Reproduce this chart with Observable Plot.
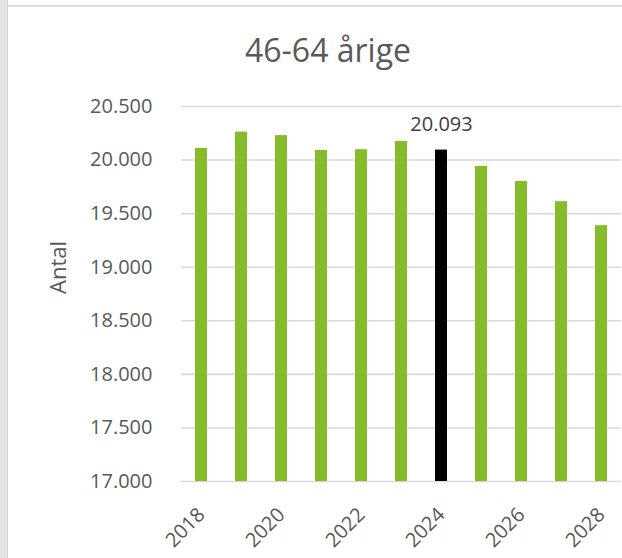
<!DOCTYPE html>
<html>
<head>
<meta charset="utf-8">
<script src="https://cdn.jsdelivr.net/npm/d3@7"></script>
<script src="https://cdn.jsdelivr.net/npm/@observablehq/plot@0.6"></script>
<style>
  html, body { margin: 0; padding: 0; background: #fff; }
  #wrap { position: relative; width: 622px; height: 558px; overflow: hidden; font-family: "Open Sans", sans-serif; }
  #leftstrip { position: absolute; left: 0; top: 0; width: 7px; height: 558px; background: #e3e3e3; border-right: 1px solid #d6d6d6; }
  #topstrip { position: absolute; left: 8px; top: 5px; width: 614px; height: 2px; background: #dcdcdc; }
  #title { position: absolute; left: 0; top: 28px; width: 656px; text-align: center; font-size: 32px; color: #595959; line-height: normal; }
  #chart { position: absolute; left: 0; top: 0; }
</style>
</head>
<body>
<div id="wrap">
  <div id="chart"></div>
  <div id="leftstrip"></div>
  <div id="topstrip"></div>
  <div id="title">46-64 årige</div>
</div>
<script>
const years = ["2018","2019","2020","2021","2022","2023","2024","2025","2026","2027","2028"];
const values = [20109, 20261, 20228, 20090, 20097, 20174, 20093, 19941, 19801, 19612, 19388];
const highlightYear = "2024";
const yTicks = [17000, 17500, 18000, 18500, 19000, 19500, 20000, 20500];
const xTickLabels = ["2018","2020","2022","2024","2026","2028"];
const yLabel = "Antal";

const data = years.map((y, i) => ({year: y, value: values[i]}));
const fmt = d => d3.format(",")(d).replace(/,/g, ".");
const textColor = "#595959";

const chart = Plot.plot({
  width: 622,
  height: 558,
  marginLeft: 181,
  marginRight: 1,
  marginTop: 106,
  marginBottom: 77,
  style: { fontFamily: "Open Sans, sans-serif", color: textColor, background: "transparent" },
  x: { domain: years, paddingInner: 0.69, paddingOuter: 0.345, label: null },
  y: { domain: [17000, 20500], label: null },
  marks: [
    Plot.gridY(yTicks, { stroke: "#d9d9d9", strokeOpacity: 1, strokeWidth: 1.6 }),
    Plot.barY(data, {
      x: "year",
      y1: 17000,
      y2: "value",
      fill: d => d.year === highlightYear ? "#000000" : "#86bc29"
    }),
    Plot.text(data.filter(d => d.year === highlightYear), {
      x: "year", y: "value", text: d => fmt(d.value),
      dy: -26, fontSize: 20, fill: "#404040"
    }),
    Plot.axisY(yTicks, { tickSize: 0, tickPadding: 29, tickFormat: fmt, fontSize: 20, label: null }),
    Plot.axisX(xTickLabels, { tickSize: 0, tickPadding: 30, tickRotate: -45, fontSize: 20, label: null }),
    Plot.text([yLabel], { frameAnchor: "left", rotate: -90, dx: -123, fontSize: 22, fill: textColor })
  ]
});
document.getElementById("chart").appendChild(chart);
</script>
</body>
</html>
